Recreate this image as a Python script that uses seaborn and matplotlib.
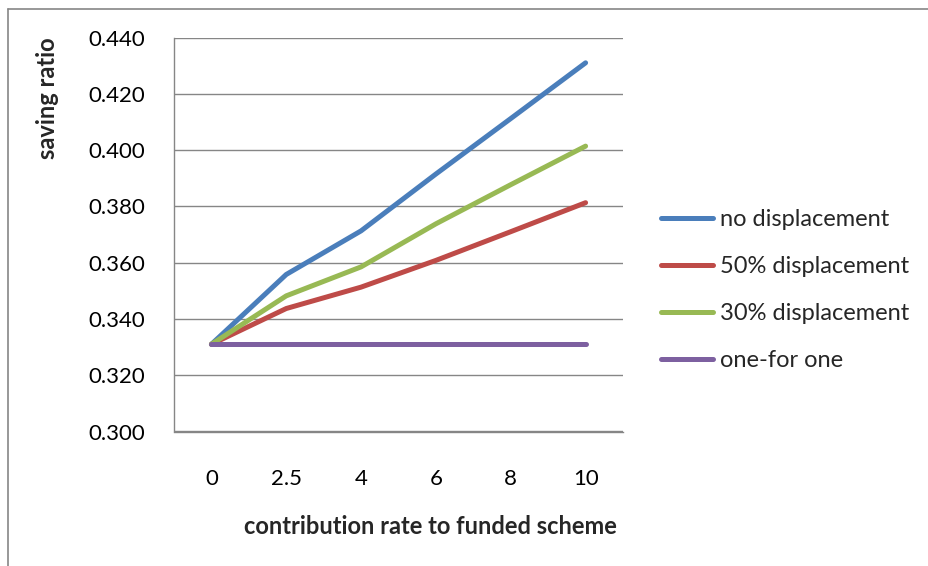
import matplotlib
matplotlib.use("Agg")
import matplotlib.pyplot as plt
from matplotlib.lines import Line2D
import seaborn as sns
import pandas as pd
import numpy as np

# contribution rates (categorical axis) and saving ratios per scenario
categories = ["0", "2.5", "4", "6", "8", "10"]
no_displacement = [0.331, 0.3558, 0.3713, 0.3915, 0.4112, 0.4310]
displacement_50 = [0.331, 0.3437, 0.3513, 0.3608, 0.3710, 0.3813]
displacement_30 = [0.331, 0.3482, 0.3585, 0.3738, 0.3877, 0.4014]
one_for_one = [0.331, 0.331, 0.331, 0.331, 0.331, 0.331]

series_names = ["no displacement", "50% displacement", "30% displacement", "one-for one"]
series_values = [no_displacement, displacement_50, displacement_30, one_for_one]
palette = ["#4A7EBB", "#BE4B48", "#98B954", "#7D60A0"]

rows = []
for name, vals in zip(series_names, series_values):
    for i, v in enumerate(vals):
        rows.append({"pos": i, "rate": categories[i], "series": name, "value": v})
df = pd.DataFrame(rows)

sns.set_theme(style="white")
plt.rcParams["font.family"] = ["Lato", "DejaVu Sans"]

fig = plt.figure(figsize=(9.29, 5.66), dpi=100)
ax = fig.add_axes([174 / 929, 1 - 431.5 / 566, (623 - 174) / 929, (431.5 - 37.5) / 566])

grid_color = "#868686"
sns.lineplot(data=df, x="pos", y="value", hue="series", hue_order=series_names,
             palette=palette, linewidth=3.6, ax=ax, legend=False,
             solid_capstyle="round", solid_joinstyle="round")

ax.set_xlim(-0.5, len(categories) - 0.5)
ax.set_ylim(0.300, 0.440)
yt = np.arange(0.300, 0.4401, 0.020)
ax.set_yticks(yt)
ax.set_yticklabels([f"{v:.3f}" for v in yt], fontsize=16, color="#000000")
ax.yaxis.grid(True, color=grid_color, linewidth=1.0)
ax.set_axisbelow(True)

ax.set_xticks(range(len(categories)))
ax.set_xticklabels(categories, fontsize=16, color="#000000")
ax.set_xticks(np.arange(-0.5, len(categories)), minor=True)
ax.tick_params(axis="x", which="major", length=0, pad=27)
ax.tick_params(axis="x", which="minor", length=5, width=1, color=grid_color, direction="out")
ax.tick_params(axis="y", which="major", length=5, width=1, color=grid_color, direction="out", pad=16)

for side in ["top", "right"]:
    ax.spines[side].set_visible(False)
for side in ["left", "bottom"]:
    ax.spines[side].set_color(grid_color)
    ax.spines[side].set_linewidth(1.0)

ax.set_xlabel("")
ax.set_ylabel("")
fig.text(430 / 929, 1 - 527 / 566, "contribution rate to funded scheme",
         ha="center", va="center", fontsize=17, fontweight="bold")
fig.text(48 / 929, 1 - 98 / 566, "saving ratio", rotation=90,
         ha="center", va="center", fontsize=17, fontweight="bold")

handles = [Line2D([0], [0], color=c, linewidth=3.6) for c in palette]
fig.legend(handles, series_names, loc="center left",
           bbox_to_anchor=(640 / 929, 1 - 290 / 566), frameon=False,
           fontsize=17, handlelength=2.2, handletextpad=0.3, labelspacing=1.1)

# outer chart border
fig.add_artist(Line2D([8 / 929, 8 / 929], [0, 1 - 9 / 566], transform=fig.transFigure,
                      color=grid_color, linewidth=1.2))
fig.add_artist(Line2D([8 / 929, 1], [1 - 9 / 566, 1 - 9 / 566], transform=fig.transFigure,
                      color=grid_color, linewidth=1.2))

fig.savefig("out.png", dpi=100)
